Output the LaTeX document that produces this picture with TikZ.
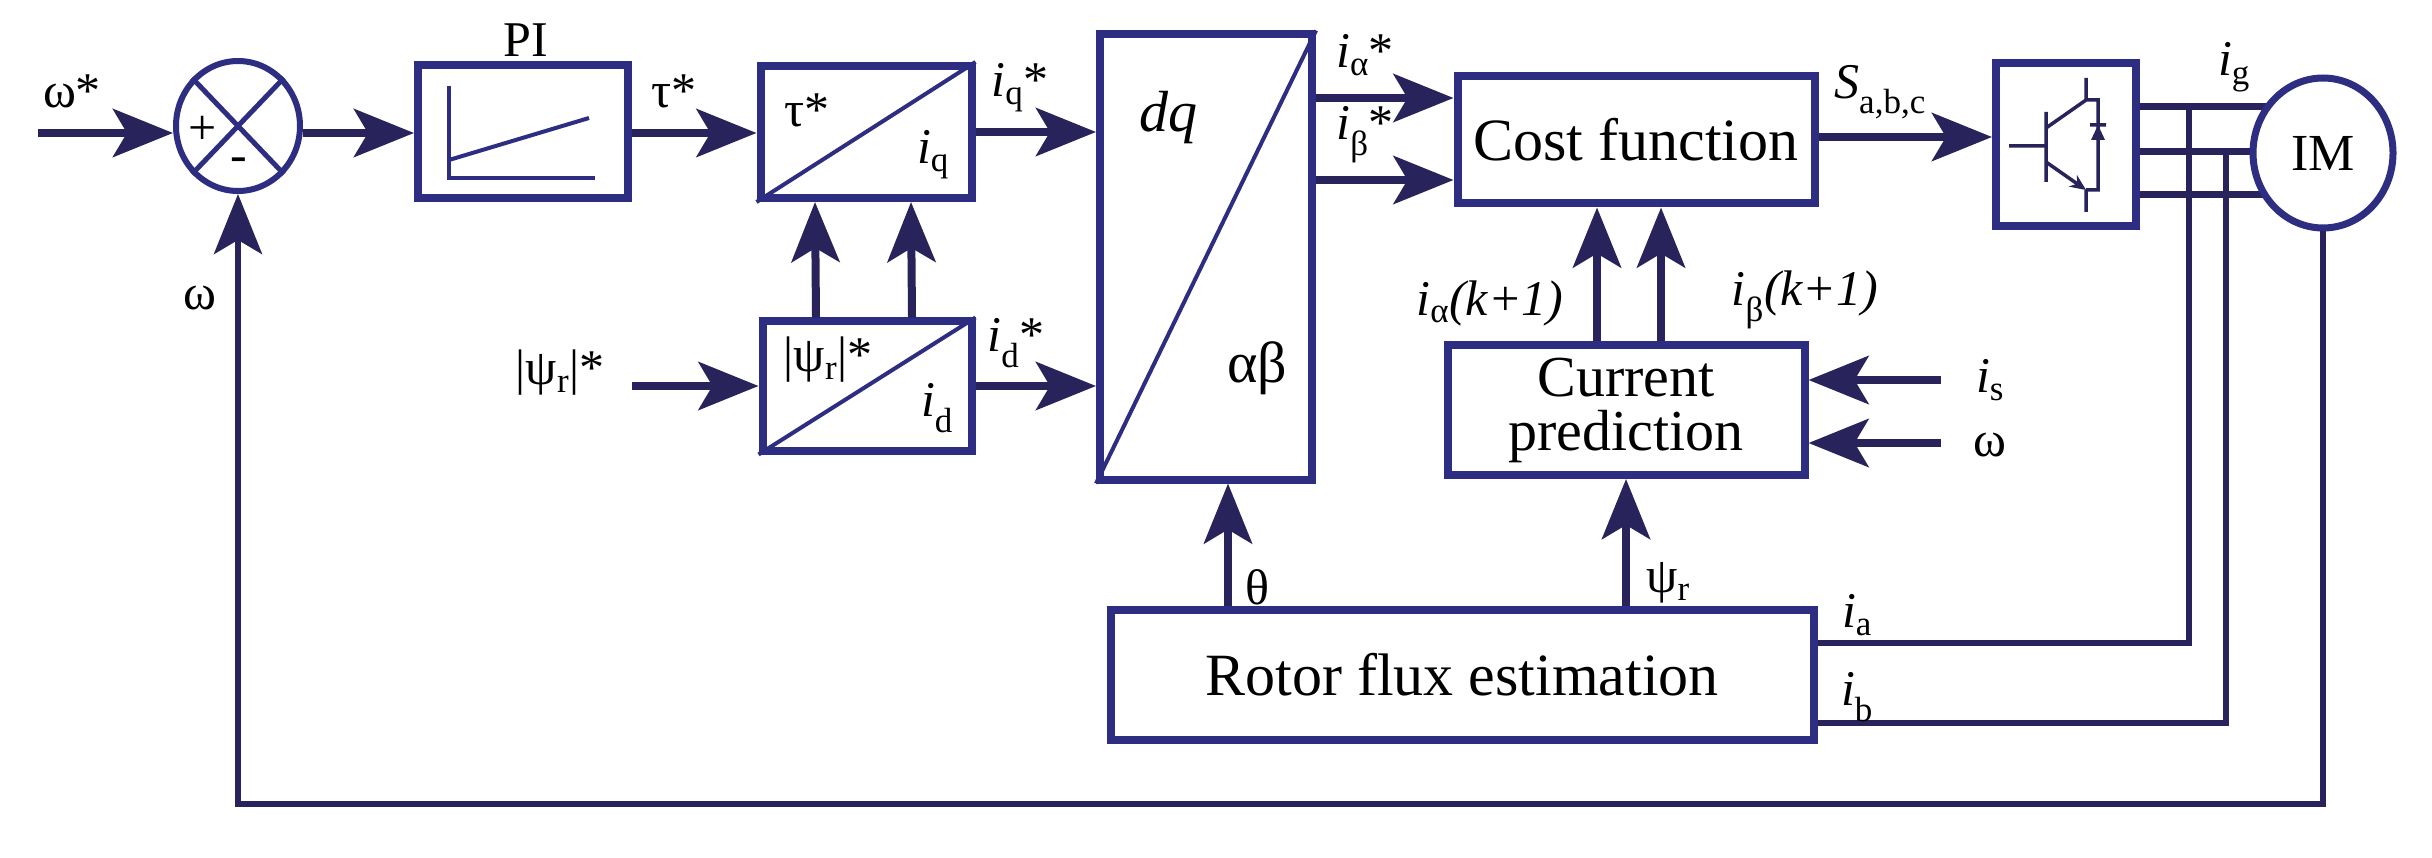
\documentclass[tikz,border=0pt]{standalone}
\usepackage{fontspec}
\setmainfont{Liberation Serif}
\usetikzlibrary{arrows.meta,shapes.geometric}
\definecolor{ln}{RGB}{40,35,90}
\definecolor{bx}{RGB}{45,45,130}
\begin{document}
\begin{tikzpicture}[x=1pt,y=-1pt,
  box/.style={draw=bx,line width=8pt,fill=white,minimum width=#1,inner sep=0pt},
  arr/.style={draw=ln,line width=8pt,-{Stealth[length=60pt,width=48pt,inset=14pt]}},
  wire/.style={draw=ln,line width=7pt},
  thin/.style={draw=bx,line width=4pt},
  lab/.style={font=\fontsize{50}{54}\selectfont,inner sep=0pt},
  big/.style={font=\fontsize{60}{64}\selectfont,align=center}]
\useasboundingbox (0,0) rectangle (2432,858);
% blocks
\node[draw=bx,line width=6pt,ellipse,minimum width=124pt,minimum height=130pt,inner sep=0pt] (sum) at (238,126) {};
\node[box=210pt,minimum height=133pt] (pi) at (523,132) {};
\node[box=211pt,minimum height=132pt] (tq) at (866,132) {};
\node[box=209pt,minimum height=129pt] (psi) at (867,386) {};
\node[box=212pt,minimum height=445pt] (dq) at (1206,257) {};
\node[box=357pt,minimum height=127pt,big] (cost) at (1636,140) {Cost function};
\node[box=140pt,minimum height=163pt] (inv) at (2066,145) {};
\node[box=357pt,minimum height=130pt,big,font=\fontsize{58}{54}\selectfont] (cp) at (1626,410) {Current\\prediction};
\node[box=703pt,minimum height=130pt,big] (rfe) at (1462,675) {Rotor flux estimation};
\coordinate (imc) at (2323,153);
% sum details
\draw[thin,line width=5pt] (sum.north west) -- (sum.south east) (sum.north east) -- (sum.south west);
\node[lab] (plus) at (203,130) {+};
\node[lab] (minus) at (239,165) {-};
% PI details
\draw[thin] (449,86) -- (449,178) -- (595,178);
\draw[thin] (449,160) -- (589,118);
\node[lab] (pil) at (526,40) {PI};
% tq / psi details
\draw[thin] (tq.south west) -- (tq.north east);
\draw[thin] (psi.south west) -- (psi.north east);
\draw[thin] (dq.south west) -- (dq.north east);
\node[lab] (t1) at (807,110) {τ*};
\node[lab] (t2) at (933,155) {\textit{i}\textsubscript{q}};
\node[lab] (p1) at (828,360) {|ψ\textsubscript{r}|*};
\node[lab] (p2) at (937,408) {\textit{i}\textsubscript{d}};
\node[lab,font=\fontsize{58}{60}\selectfont] (dql) at (1168,118) {\textit{dq}};
\node[lab,font=\fontsize{58}{60}\selectfont] (abl) at (1257,368) {αβ};
% inverter symbol
\draw[ln,line width=3.5pt] (2009,146) -- (2046,146) (2046,112) -- (2046,182)
  (2046,128) -- (2086,100) -- (2086,78) (2086,212) -- (2086,190)
  (2086,100) -- (2098,100) -- (2098,190) -- (2086,190)
  (2090,125) -- (2106,125);
\draw[ln,line width=3.5pt,-{Stealth[length=16pt,width=14pt]}] (2046,162) -- (2086,190);
\fill[ln] (2098,125) -- (2091,140) -- (2105,140) -- cycle;
% connectors
\coordinate (win) at (38,133);
\draw[arr] (win) -- (sum.west|-win);
\draw[arr] (sum.east|-win) -- (pi.west|-win);
\draw[arr] (pi.east|-win) -- (tq.west|-win);
\draw[arr] (tq.east) -- (tq.east-|dq.west);
\coordinate (psin) at (632,386);
\draw[arr] (psin) -- (psi.west);
\draw[arr] (psi.east) -- (psi.east-|dq.west);
\draw[arr] ([xshift=-51pt]psi.north) -- ([xshift=-51pt]tq.south);
\draw[arr] ([xshift=45pt]psi.north) -- ([xshift=45pt]tq.south);
\draw[arr] (dq.east|-0,98) -- (cost.west|-0,98);
\draw[arr] (dq.east|-0,180) -- (cost.west|-0,180);
\draw[arr] (cost.east|-0,137) -- (inv.west|-0,137);
\draw[arr] ([xshift=-29pt]cp.north) -- ([xshift=-29pt]cp.north|-cost.south);
\draw[arr] ([xshift=35pt]cp.north) -- ([xshift=35pt]cp.north|-cost.south);
\coordinate (isin) at (1941,380);
\coordinate (win2) at (1941,443);
\draw[arr] (isin) -- (cp.east|-isin);
\draw[arr] (win2) -- (cp.east|-win2);
\draw[arr] ([xshift=22pt]dq.south|-rfe.north) -- ([xshift=22pt]dq.south);
\draw[arr] (cp.south|-rfe.north) -- (cp.south);
% motor lines
\draw[wire] (inv.east|-0,107) -- (imc|-0,107);
\draw[wire] (inv.east|-0,152) -- (imc|-0,152);
\draw[wire] (inv.east|-0,195) -- (imc|-0,195);
\draw[wire,line width=6pt] (2189,107) -- (2189,643) -- (rfe.east|-0,643);
\draw[wire,line width=6pt] (2226,152) -- (2226,723) -- (rfe.east|-0,723);
\node[draw=bx,line width=7pt,fill=white,ellipse,minimum width=140pt,minimum height=150pt,lab,font=\fontsize{52}{56}\selectfont] (im) at (imc) {IM};
\draw[wire,line width=6pt,-{Stealth[length=60pt,width=48pt,inset=14pt]}] (im.south) -- (im.south|-0,804) -- (sum.south|-0,804) -- (sum.south);
% labels
\node[lab] (l1) at (72,91) {ω*};
\node[lab] (l2) at (674,91) {τ*};
\node[lab] (l3) at (1020,88) {\textit{i}\textsubscript{q}*};
\node[lab] (l4) at (1016,343) {\textit{i}\textsubscript{d}*};
\node[lab] (l5) at (560,373) {|ψ\textsubscript{r}|*};
\node[lab] (l6) at (200,298) {ω};
\node[lab] (l7) at (1365,55) {\textit{i}\textsubscript{α}*};
\node[lab] (l8) at (1365,135) {\textit{i}\textsubscript{β}*};
\node[lab] (l9) at (1880,92) {\textit{S}\textsubscript{a,b,c}};
\node[lab] (l10) at (2234,67) {\textit{i}\textsubscript{g}};
\node[lab] (l11) at (1490,303) {\textit{i}\textsubscript{α}\textit{(k+1)}};
\node[lab] (l12) at (1805,300) {\textit{i}\textsubscript{β}\textit{(k+1)}};
\node[lab] (l13) at (1990,380) {\textit{i}\textsubscript{s}};
\node[lab] (l14) at (1990,445) {ω};
\node[lab] (l15) at (1257,587) {θ};
\node[lab] (l16) at (1668,583) {ψ\textsubscript{r}};
\node[lab] (l17) at (1857,615) {\textit{i}\textsubscript{a}};
\node[lab] (l18) at (1857,697) {\textit{i}\textsubscript{b}};
\end{tikzpicture}
\end{document}
